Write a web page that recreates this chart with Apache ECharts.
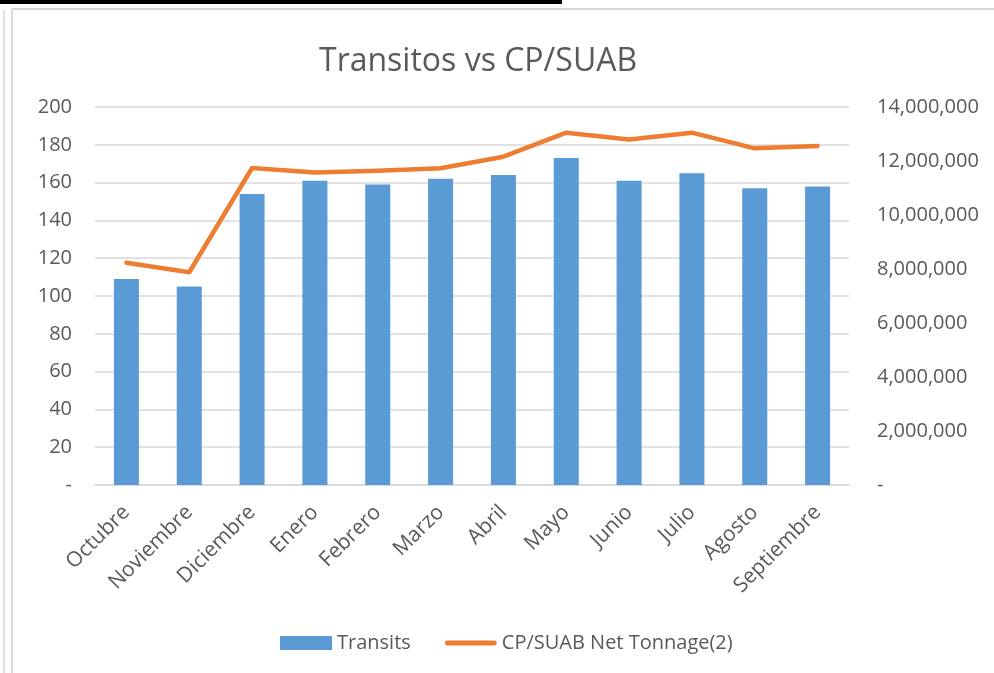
<!DOCTYPE html>
<html>
<head>
<meta charset="utf-8">
<script src="https://cdn.jsdelivr.net/npm/echarts@6.0.0/dist/echarts.min.js"></script>
<style>
  html, body { margin: 0; padding: 0; background: #fff; }
  #chart { width: 994px; height: 673px; }
</style>
</head>
<body>
<div id="chart"></div>
<script>
// months on the x axis
const months = ['Octubre', 'Noviembre', 'Diciembre', 'Enero', 'Febrero', 'Marzo',
  'Abril', 'Mayo', 'Junio', 'Julio', 'Agosto', 'Septiembre'];

// bars, left axis
const transits = [109, 105, 154, 161, 159, 162, 164, 173, 161, 165, 157, 158];

// line, right axis
const netTonnage = [8230000, 7880000, 11740000, 11570000, 11640000, 11730000,
  12160000, 13050000, 12800000, 13050000, 12470000, 12560000];

const leftTicks = [0, 20, 40, 60, 80, 100, 120, 140, 160, 180, 200];
const rightTicks = [0, 2000000, 4000000, 6000000, 8000000, 10000000, 12000000, 14000000];

const font = 'Open Sans';
const grey = '#595959';

const chart = echarts.init(document.getElementById('chart'));

chart.setOption({
  animation: false,
  textStyle: { fontFamily: font },
  title: {
    text: 'Transitos vs CP/SUAB',
    left: 314,
    top: 41,
    textStyle: { fontFamily: font, fontSize: 32, fontWeight: 'normal', color: grey }
  },
  // chart frame leftovers from the source document
  graphic: [
    { type: 'line', shape: { x1: 0, y1: 2, x2: 562, y2: 2 }, style: { stroke: '#000', lineWidth: 4 } },
    { type: 'line', shape: { x1: 224, y1: 0, x2: 224, y2: 4 }, style: { stroke: '#000', lineWidth: 2 } },
    { type: 'line', shape: { x1: 4, y1: 10, x2: 4, y2: 673 }, style: { stroke: '#e0e0e0', lineWidth: 2 } },
    { type: 'line', shape: { x1: 12, y1: 9, x2: 12, y2: 673 }, style: { stroke: '#d9d9d9', lineWidth: 2 } },
    { type: 'line', shape: { x1: 12, y1: 9, x2: 994, y2: 9 }, style: { stroke: '#d9d9d9', lineWidth: 2 } }
  ],
  legend: {
    top: 628,
    left: 275,
    itemGap: 34,
    textStyle: { fontFamily: font, fontSize: 20, color: grey },
    data: [
      { name: 'Transits', icon: 'rect', itemStyle: { color: '#5b9bd5' } },
      { name: 'CP/SUAB Net Tonnage(2)', icon: 'path://M2 0 L50 0 A2.5 2.5 0 0 1 50 5 L2 5 A2.5 2.5 0 0 1 2 0 Z' }
    ],
    itemWidth: 52,
    itemHeight: 14
  },
  grid: { left: 95, right: 145, top: 107, bottom: 188 },
  xAxis: {
    type: 'category',
    data: months,
    axisLine: { lineStyle: { color: '#d9d9d9', width: 1.5 } },
    axisTick: { show: false },
    axisLabel: { rotate: 45, fontSize: 21, color: grey, fontFamily: font, margin: 24, interval: 0 }
  },
  yAxis: [
    {
      type: 'value',
      min: leftTicks[0],
      max: leftTicks[leftTicks.length - 1],
      interval: 20,
      axisLine: { show: false },
      axisTick: { show: false },
      splitLine: { lineStyle: { color: '#d9d9d9', width: 1.5 } },
      axisLabel: {
        fontSize: 20, color: grey, fontFamily: font, margin: 23,
        formatter: v => (v === 0 ? '-' : String(v))
      }
    },
    {
      type: 'value',
      min: rightTicks[0],
      max: rightTicks[rightTicks.length - 1],
      interval: 2000000,
      axisLine: { show: false },
      axisTick: { show: false },
      splitLine: { show: false },
      axisLabel: {
        fontSize: 20, color: grey, fontFamily: font, margin: 28,
        formatter: v => (v === 0 ? '-' : v.toLocaleString('en-US'))
      }
    }
  ],
  series: [
    {
      name: 'Transits',
      type: 'bar',
      data: transits,
      barWidth: 25,
      itemStyle: { color: '#5b9bd5' }
    },
    {
      name: 'CP/SUAB Net Tonnage(2)',
      type: 'line',
      yAxisIndex: 1,
      data: netTonnage,
      symbol: 'none',
      lineStyle: { color: '#ed7d31', width: 4.5, cap: 'round', join: 'round' },
      itemStyle: { color: '#ed7d31' }
    }
  ]
});
</script>
</body>
</html>
